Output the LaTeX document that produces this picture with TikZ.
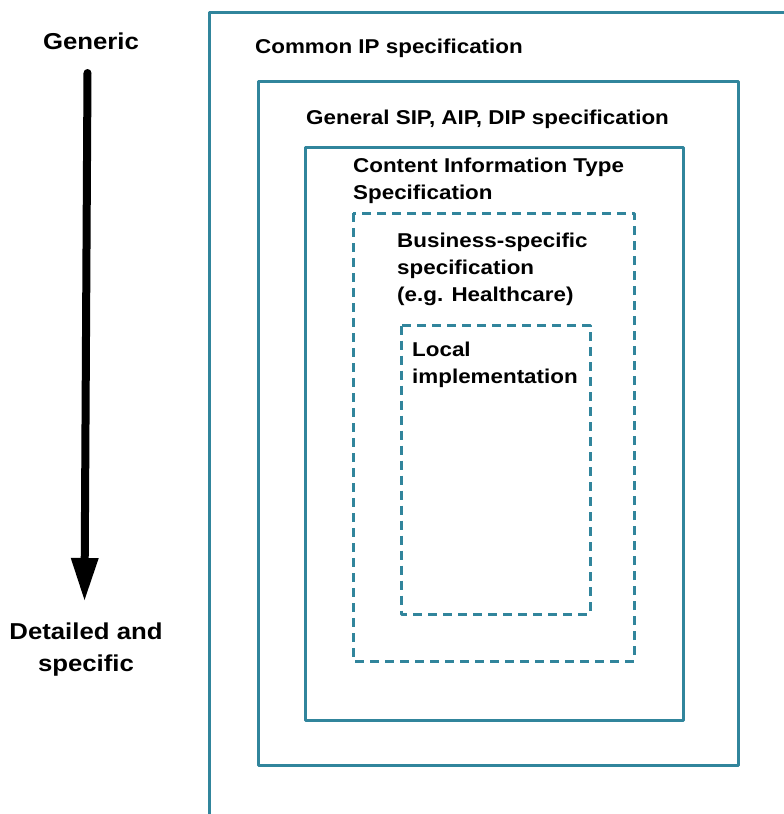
\documentclass[tikz,border=0pt]{standalone}
\usepackage{fontspec}
\setmainfont{Liberation Sans}[FakeStretch=1.12]
\usepackage{xcolor}
\usepackage{tikz}
\usetikzlibrary{arrows.meta,positioning}
\definecolor{specteal}{HTML}{31859C}

\begin{document}
\begin{tikzpicture}[x=1pt,y=-1pt]
	\tikzstyle{box}=[draw=specteal,line width=3pt,line join=round]
	\tikzstyle{dashbox}=[box,dash pattern=on 9pt off 6pt]
	\tikzstyle{lbl}=[anchor=north west,inner sep=0pt,align=left,font=\bfseries\fontsize{20}{27}\selectfont]
	\tikzstyle{side}=[anchor=north,inner sep=0pt,align=center,font=\bfseries\fontsize{23}{32}\selectfont]
	\useasboundingbox (0,0) rectangle (784,814);
	\clip (0,0) rectangle (784,814);
	
	\draw[box] (209,12.5) rectangle (800,830);
	\draw[box] (258,81.5) rectangle (738,765);
	\draw[box] (305,147.5) rectangle (683,720);
	\draw[dashbox] (353,213) rectangle (634,661);
	\draw[dashbox] (401.5,325.5) rectangle (590,614);
	
	\node[lbl](common) at (255,38.5) {Common IP specification};
	\node[lbl](general) at (306,109.5) {General SIP, AIP, DIP specification};
	\node[lbl](content) at (353,157.5) {Content Information Type\\Specification};
	\node[lbl](business) at (397,232.5) {Business-specific\\specification\\(e.g. Healthcare)};
	\node[lbl](local) at (412,341.5) {Local\\implementation};
	
	\node[side](generic) at (91,32.5) {Generic};
	\node[side](detailed) at (86,622.5) {Detailed and\\specific};
	\coordinate (gtop) at (87.5,73);
	\coordinate (gbot) at (84.5,600);
	\draw[line width=8pt,line cap=round,-{Triangle[width=28pt,length=42pt,line width=0pt,sharp]}] (gtop) -- (gbot);
\end{tikzpicture}
\end{document}
